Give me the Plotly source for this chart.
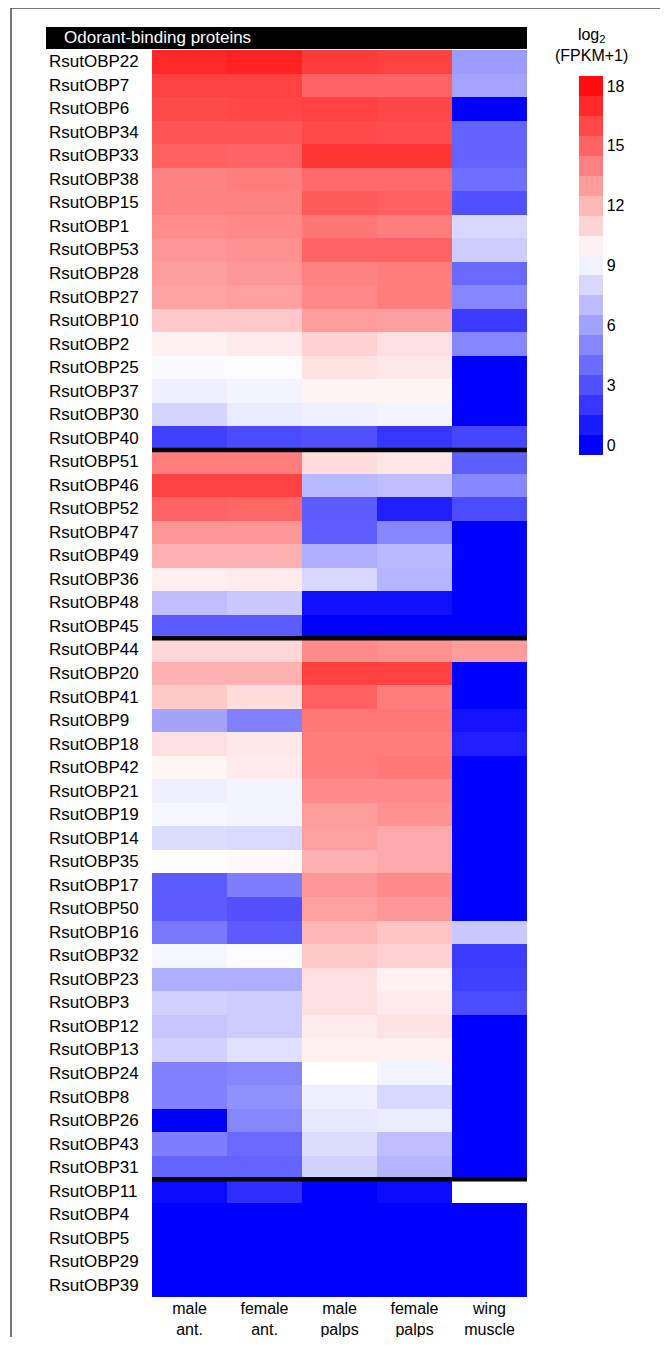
import plotly.graph_objects as go

# ---------------- data ----------------
genes = [22, 7, 6, 34, 33, 38, 15, 1, 53, 28, 27, 10, 2, 25, 37, 30, 40,
         51, 46, 52, 47, 49, 36, 48, 45,
         44, 20, 41, 9, 18, 42, 21, 19, 14, 35, 17, 50, 16, 32, 23, 3, 12, 13, 24, 8, 26, 43, 31,
         11, 4, 5, 29, 39]
group_sizes = [17, 8, 23, 5]

tissues = ["male<br>ant.", "female<br>ant.", "male<br>palps", "female<br>palps", "wing<br>muscle"]

male_ant = [17.1, 16.2, 15.9, 15.5, 15.1, 13.9, 13.9, 13.6, 13.2, 13.0, 12.7, 11.4, 10.0, 9.3, 8.9, 7.9, 2.4,
            14.1, 16.2, 15.0, 13.2, 12.3, 10.1, 7.1, 3.4,
            10.9, 12.3, 11.4, 6.1, 10.6, 9.8, 8.9, 9.2, 8.2, 9.6, 3.4, 3.4, 4.5, 9.2, 6.5, 7.8, 7.3, 7.8, 4.8, 4.8, 0.0, 4.7, 3.7,
            0.4, 0.0, 0.0, 0.0, 0.0]
female_ant = [17.3, 16.2, 16.0, 15.5, 15.0, 14.1, 13.9, 13.7, 13.4, 13.2, 12.9, 11.4, 10.2, 9.4, 9.1, 8.75, 2.8,
              14.1, 16.2, 14.9, 13.2, 12.3, 10.2, 7.5, 3.4,
              10.9, 12.3, 10.7, 4.8, 10.3, 10.2, 9.1, 9.1, 8.1, 9.7, 4.7, 3.0, 3.4, 9.4, 6.5, 7.6, 7.6, 8.4, 5.0, 5.4, 5.0, 3.9, 3.7,
              1.7, 0.0, 0.0, 0.0, 0.0]
male_palps = [16.4, 15.0, 16.2, 15.9, 16.6, 14.8, 15.3, 14.3, 15.0, 13.9, 13.7, 13.0, 11.1, 10.5, 9.9, 8.9, 3.0,
              10.7, 6.9, 3.4, 3.5, 6.5, 8.0, 0.6, 0.0,
              13.6, 16.2, 15.1, 14.3, 14.1, 14.1, 13.6, 13.0, 12.9, 12.3, 13.2, 12.9, 12.0, 11.4, 10.6, 10.6, 10.2, 10.0, 9.5, 8.9, 8.6, 8.2, 7.8,
              0.0, 0.0, 0.0, 0.0, 0.0]
female_palps = [16.2, 15.0, 16.0, 15.8, 16.6, 14.8, 15.1, 14.1, 15.0, 14.1, 14.1, 12.9, 10.6, 10.3, 9.9, 9.1, 2.0,
                10.4, 7.1, 1.1, 5.0, 6.9, 6.7, 0.6, 0.0,
                13.4, 16.2, 14.1, 14.3, 14.1, 14.3, 13.6, 13.4, 12.5, 12.5, 13.6, 13.2, 11.6, 11.1, 10.0, 10.2, 10.5, 10.0, 9.1, 8.0, 8.8, 7.1, 6.7,
                0.4, 0.0, 0.0, 0.0, 0.0]
wing_muscle = [5.8, 6.1, 0.0, 3.7, 3.7, 4.1, 3.0, 8.0, 7.6, 3.9, 5.0, 2.2, 5.0, 0.0, 0.0, 0.0, 2.6,
               3.5, 5.0, 2.8, 0.0, 0.0, 0.0, 0.0, 0.0,
               13.0, 0.0, 0.0, 0.7, 1.1, 0.0, 0.0, 0.0, 0.0, 0.0, 0.0, 0.0, 7.5, 2.2, 2.4, 2.8, 0.0, 0.0, 0.0, 0.0, 0.0, 0.0, 0.0,
               None, 0.0, 0.0, 0.0, 0.0]

colorbar_ticks = [0, 3, 6, 9, 12, 15, 18]

# ---------------- colour mapping ----------------
V_WHITE = 9.5
V_RED = 18.5


def value_color(v):
    if v <= V_WHITE:
        c = round(255 * max(v, 0) / V_WHITE)
        return f"rgb({c},{c},255)"
    c = round(255 * max(V_RED - v, 0) / (V_RED - V_WHITE))
    return f"rgb(255,{c},{c})"


cont_scale = [[0.0, "rgb(0,0,255)"], [V_WHITE / V_RED, "rgb(255,255,255)"], [1.0, "rgb(255,0,0)"]]

steps = []
n_steps = 19
for k in range(n_steps):
    col = value_color(k)
    steps.append([k / n_steps, col])
    steps.append([(k + 1) / n_steps, col])

# ---------------- geometry (reference page pixels) ----------------
BODY = 8                      # default page margin of the html body
PX0, PX1 = 152, 527           # plot area in page pixels
PY0, PY1 = 50, 1297
pw, ph = PX1 - PX0, PY1 - PY0
W, H = 668 - 2 * BODY, 1345 - 2 * BODY
L, T = PX0 - BODY, PY0 - BODY
R, B = W - L - pw, H - T - ph


def px_x(px):
    return (px - PX0) / pw


def px_y(py):
    return (PY1 - py) / ph


FONT = "Liberation Sans, Arial, sans-serif"

columns = [male_ant, female_ant, male_palps, female_palps, wing_muscle]
n_rows = len(genes)
z = [[columns[c][r] for c in range(5)] for r in range(n_rows)]

fig = go.Figure()
fig.add_trace(go.Heatmap(
    z=z, x=list(range(5)), y=list(range(n_rows)),
    colorscale=cont_scale, zmin=0, zmax=V_RED, showscale=False,
    hoverongaps=False,
))
fig.add_trace(go.Scatter(
    x=[None], y=[None], mode="markers", showlegend=False, hoverinfo="skip",
    marker=dict(color=[0], colorscale=steps, cmin=-0.5, cmax=18.5, showscale=True,
                colorbar=dict(x=px_x(579), xanchor="left", y=px_y(455), yanchor="bottom",
                              xpad=0, ypad=0,
                              lenmode="pixels", len=379, thicknessmode="pixels", thickness=24,
                              outlinewidth=0, tickvals=colorbar_ticks, ticks="",
                              tickfont=dict(family=FONT, size=16, color="black"))),
))

shapes = []
# group separators
b = 0
for s in group_sizes[:-1]:
    b += s
    shapes.append(dict(type="line", xref="x", yref="y", x0=-0.5, x1=4.5, y0=b - 0.5, y1=b - 0.5,
                       line=dict(color="black", width=4.5)))
# title bar
shapes.append(dict(type="rect", xref="paper", yref="paper", x0=px_x(46), x1=px_x(527),
                   y0=px_y(49), y1=px_y(27), fillcolor="black", line=dict(width=0)))
# frame lines
shapes.append(dict(type="line", xref="paper", yref="paper", x0=px_x(11), x1=px_x(11),
                   y0=px_y(8), y1=px_y(1400), line=dict(color="#4a4a4a", width=1.5)))
shapes.append(dict(type="line", xref="paper", yref="paper", x0=px_x(11), x1=px_x(700),
                   y0=px_y(8), y1=px_y(8), line=dict(color="#4a4a4a", width=1.5)))

annotations = []
for i, g in enumerate(genes):
    annotations.append(dict(text=f"RsutOBP{g}", xref="paper", yref="y", x=px_x(47), y=i,
                            xanchor="left", yanchor="middle", showarrow=False,
                            font=dict(family=FONT, size=17, color="black")))
annotations.append(dict(text="Odorant-binding proteins", xref="paper", yref="paper",
                        x=px_x(62), y=px_y(38), xanchor="left", yanchor="middle", showarrow=False,
                        font=dict(family=FONT, size=17, color="white")))
annotations.append(dict(text="log<sub>2</sub><br>(FPKM+1)", xref="paper", yref="paper",
                        x=px_x(591), y=px_y(66), xanchor="center", yanchor="bottom", showarrow=False,
                        font=dict(family=FONT, size=16, color="black")))

fig.update_layout(
    width=W, height=H, autosize=False,
    margin=dict(l=L, r=R, t=T, b=B, pad=0, autoexpand=False),
    paper_bgcolor="white", plot_bgcolor="white",
    font=dict(family=FONT, color="black"),
    shapes=shapes, annotations=annotations,
    xaxis=dict(range=[-0.5, 4.5], tickvals=list(range(5)), ticktext=tissues, ticks="",
               showgrid=False, zeroline=False, showline=False, ticklabelstandoff=0,
               automargin=False,
               tickfont=dict(family=FONT, size=16, color="black"), fixedrange=True),
    yaxis=dict(range=[n_rows - 0.5, -0.5], showticklabels=False, ticks="", showgrid=False,
               zeroline=False, showline=False, fixedrange=True, automargin=False),
)

fig.write_html("out.html")
